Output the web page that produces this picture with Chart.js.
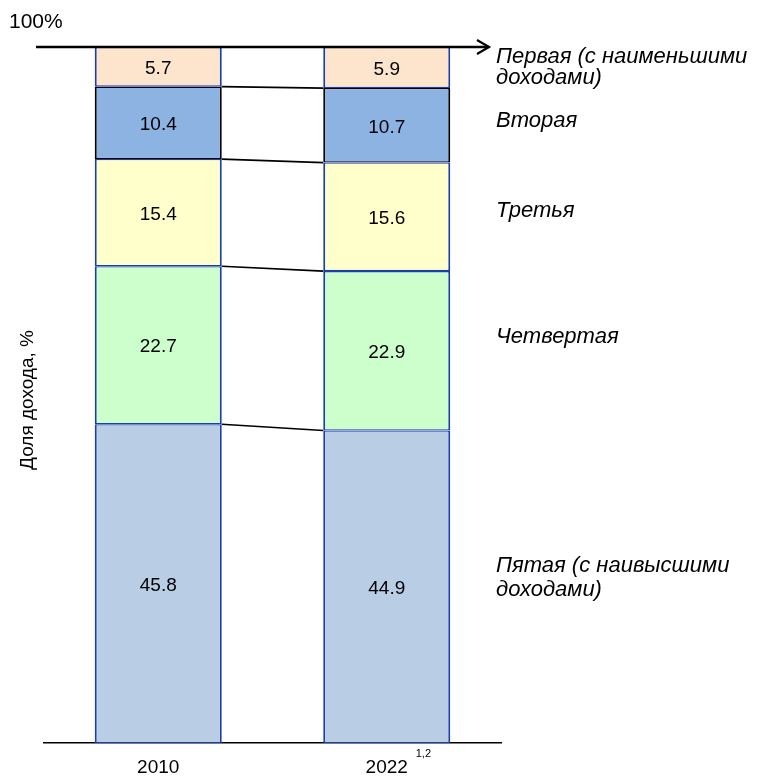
<!DOCTYPE html>
<html lang="ru">
<head>
<meta charset="UTF-8" />
<title>Доля дохода</title>
<script src="https://cdn.jsdelivr.net/npm/chart.js"></script>
<style>
  html, body { margin: 0; padding: 0; background: #fff; }
  #wrap { width: 774px; height: 778px; position: relative; }
</style>
</head>
<body>
<div id="wrap"><canvas id="chart"></canvas></div>
<script>
  // data
  const years = ['2010', '2022'];
  const groupNames = ['Пятая', 'Четвертая', 'Третья', 'Вторая', 'Первая'];
  const fifth  = [45.8, 44.9];
  const fourth = [22.7, 22.9];
  const third  = [15.4, 15.6];
  const second = [10.4, 10.7];
  const first  = [5.7, 5.9];

  const FONT = 'Arial, "Liberation Sans", sans-serif';
  const BLUE_EDGE = '#1a3faa';

  const series = [fifth, fourth, third, second, first];
  const fills = ['#b9cde5', '#ccffcc', '#ffffcc', '#8db3e2', '#fde4cc'];
  const edges = [BLUE_EDGE, BLUE_EDGE, BLUE_EDGE, '#000000', BLUE_EDGE];

  const datasets = series.map((vals, i) => ({
    label: groupNames[i],
    data: vals,
    backgroundColor: fills[i],
    borderColor: edges[i],
    borderWidth: { top: 1.3, bottom: 1.3, left: 2, right: 2 },
    borderSkipped: false,
    barPercentage: 0.556,
    categoryPercentage: 1
  }));

  // labels, connectors, arrow, side texts
  const extras = {
    id: 'extras',
    afterDatasetsDraw(chart) {
      const { ctx, scales } = chart;
      const y = scales.y, x = scales.x;
      ctx.save();

      // connector lines between the bars
      const m0 = chart.getDatasetMeta(0).data;
      const right0 = m0[0].x + m0[0].width / 2;
      const left1 = m0[1].x - m0[1].width / 2;
      ctx.strokeStyle = '#000';
      ctx.lineWidth = 1.7;
      let c0 = 0, c1 = 0;
      for (let i = 0; i < series.length - 1; i++) {
        c0 += series[i][0];
        c1 += series[i][1];
        ctx.beginPath();
        ctx.moveTo(right0, y.getPixelForValue(c0));
        ctx.lineTo(left1, y.getPixelForValue(c1));
        ctx.stroke();
      }

      // value labels
      ctx.fillStyle = '#000';
      ctx.font = '19px ' + FONT;
      ctx.textAlign = 'center';
      ctx.textBaseline = 'middle';
      chart.data.datasets.forEach((ds, di) => {
        chart.getDatasetMeta(di).data.forEach((bar, j) => {
          const mid = (bar.y + bar.base) / 2;
          ctx.fillText(ds.data[j].toFixed(1), bar.x, mid + 2);
        });
      });

      // top 100% arrow
      const top = y.getPixelForValue(100);
      ctx.lineWidth = 2.5;
      ctx.beginPath();
      ctx.moveTo(36, top);
      ctx.lineTo(489, top);
      ctx.stroke();
      ctx.lineWidth = 2.2;
      ctx.beginPath();
      ctx.moveTo(477, top - 7);
      ctx.lineTo(489, top);
      ctx.lineTo(477, top + 7);
      ctx.stroke();

      ctx.font = '21px ' + FONT;
      ctx.textAlign = 'left';
      ctx.fillText('100%', 9, 22);

      // y title
      ctx.save();
      ctx.translate(28, 400);
      ctx.rotate(-Math.PI / 2);
      ctx.textAlign = 'center';
      ctx.font = '19px ' + FONT;
      ctx.fillText('Доля дохода, %', 0, 0);
      ctx.restore();

      // superscript for 2022
      const x22 = x.getPixelForValue(1);
      ctx.font = '11px ' + FONT;
      ctx.textAlign = 'left';
      ctx.fillText('1,2', x22 + 29, 754);

      // group names on the right
      ctx.font = 'italic 22px ' + FONT;
      const side = [
        ['Первая (с наименьшими', 57], ['доходами)', 78],
        ['Вторая', 121],
        ['Третья', 211],
        ['Четвертая', 337],
        ['Пятая (с наивысшими', 566], ['доходами)', 590]
      ];
      side.forEach(([t, ty]) => ctx.fillText(t, 496, ty));

      ctx.restore();
    }
  };

  new Chart(document.getElementById('chart'), {
    type: 'bar',
    data: { labels: years, datasets },
    options: {
      responsive: true,
      maintainAspectRatio: false,
      animation: false,
      layout: { padding: { left: 44, right: 273, top: 47, bottom: 0 } },
      plugins: { legend: { display: false }, tooltip: { enabled: false } },
      scales: {
        x: {
          stacked: true,
          grid: { display: false },
          border: { display: true, color: '#000', width: 1.5 },
          ticks: { color: '#000', font: { family: FONT, size: 19 }, padding: 5 },
          afterFit(scale) { scale.height = 35; }
        },
        y: {
          stacked: true,
          display: false,
          min: 0,
          max: 100
        }
      }
    },
    plugins: [extras]
  });
</script>
</body>
</html>
